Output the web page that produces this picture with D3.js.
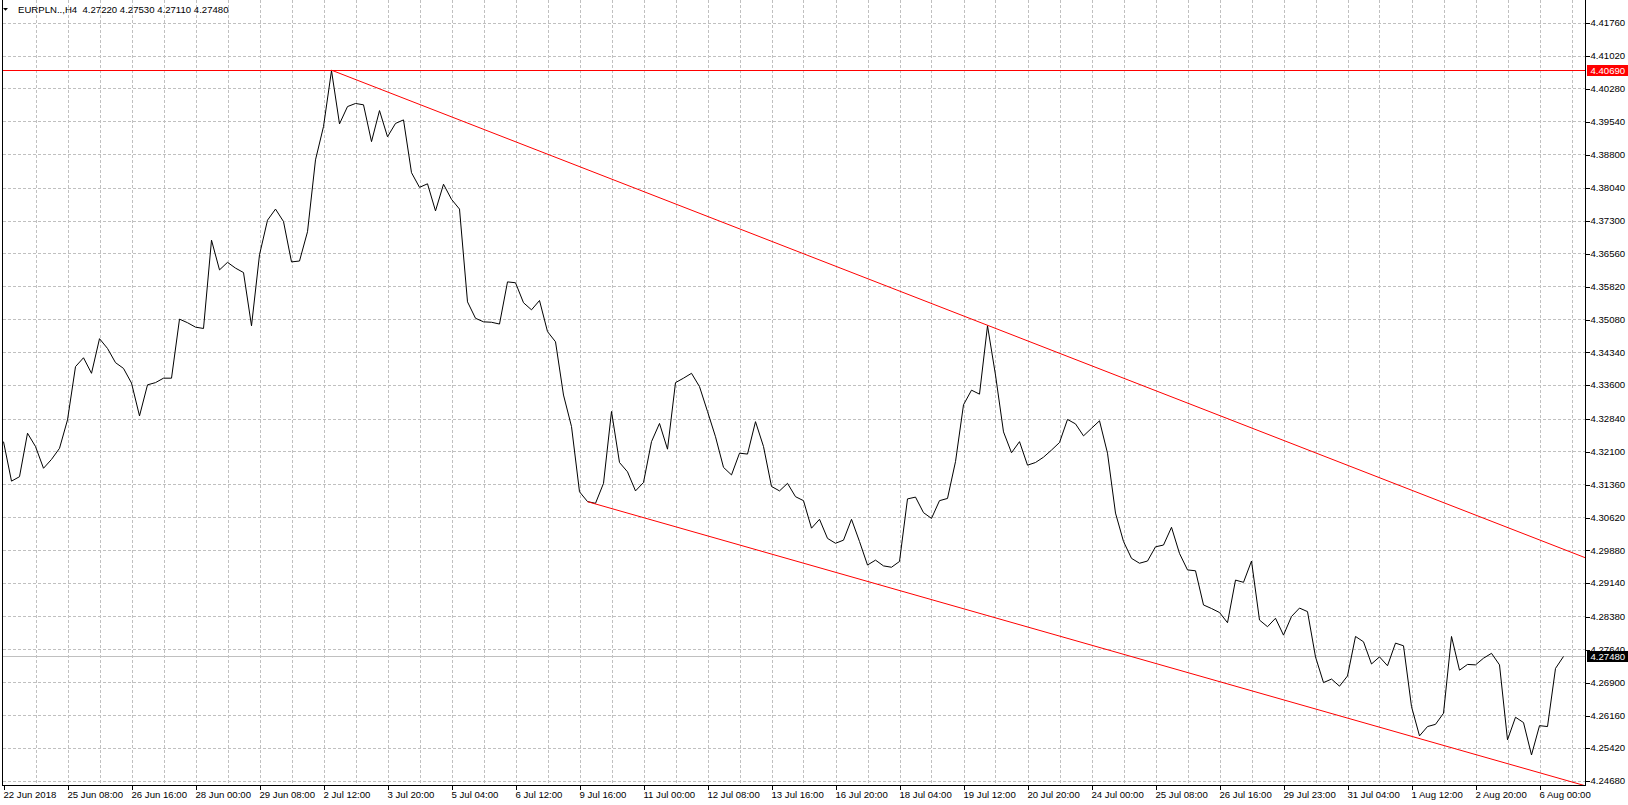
<!DOCTYPE html>
<html lang="en">
<head>
<meta charset="utf-8">
<title>EURPLN H4</title>
<script src="https://cdnjs.cloudflare.com/ajax/libs/d3/7.8.5/d3.min.js"></script>
<style>
body { margin: 0; background: #fff; }
svg { display: block; }
.grid line { stroke: #c0c0c0; stroke-width: 1; stroke-dasharray: 3,2; shape-rendering: crispEdges; }
.price { fill: none; stroke: #000; stroke-width: 1; }
.redline { fill: none; stroke: #ff0000; stroke-width: 1; }
.frame { stroke: #000; stroke-width: 1; shape-rendering: crispEdges; }
.axis text { font-family: "Liberation Sans", Arial, sans-serif; font-size: 9.6px; fill: #000; }
.axis line { stroke: #000; shape-rendering: crispEdges; }
</style>
</head>
<body>
<script>

// symbol header: name + O H L C of the last bar
var symbolName = "EURPLN..,H4";
var lastBar = [4.27220, 4.27530, 4.27110, 4.27480];

// H4 closes, one per bar (22 Jun 2018 -> 6 Aug 2018)
var closes = [4.3232,4.3143,4.3153,4.3251,4.3221,4.3172,4.3192,4.3217,4.3281,4.3401,
 4.3421,4.3386,4.3464,4.3442,4.3410,4.3397,4.3364,4.3290,4.3360,4.3365,
 4.3375,4.3375,4.3508,4.3500,4.3490,4.3487,4.3686,4.3619,4.3636,4.3623,
 4.3613,4.3493,4.3653,4.3731,4.3756,4.3728,4.3637,4.3639,4.3705,4.3867,
 4.3942,4.4068,4.3948,4.3987,4.3994,4.3991,4.3908,4.3978,4.3919,4.3949,
 4.3957,4.3838,4.3805,4.3813,4.3752,4.3812,4.3778,4.3756,4.3547,4.3510,
 4.3502,4.3501,4.3497,4.3592,4.3590,4.3545,4.3529,4.3550,4.3480,4.3457,
 4.3337,4.3266,4.3119,4.3097,4.3093,4.3138,4.3300,4.3185,4.3164,4.3121,
 4.3140,4.3232,4.3273,4.3215,4.3365,4.3375,4.3386,4.3356,4.3300,4.3243,
 4.3174,4.3157,4.3206,4.3204,4.3277,4.3221,4.3131,4.3121,4.3138,4.3108,
 4.3099,4.3037,4.3057,4.3014,4.3003,4.3010,4.3057,4.3007,4.2954,4.2965,
 4.2952,4.2949,4.2962,4.3103,4.3107,4.3072,4.3059,4.3099,4.3104,4.3187,
 4.3315,4.3348,4.3339,4.3493,4.3382,4.3254,4.3207,4.3232,4.3179,4.3185,
 4.3197,4.3213,4.3230,4.3282,4.3272,4.3245,4.3262,4.3279,4.3206,4.3071,
 4.3007,4.2969,4.2958,4.2963,4.2995,4.2999,4.3039,4.2980,4.2943,4.2941,
 4.2864,4.2856,4.2847,4.2824,4.2920,4.2915,4.2963,4.2830,4.2815,4.2834,
 4.2796,4.2838,4.2857,4.2849,4.2747,4.2689,4.2697,4.2681,4.2704,4.2793,
 4.2781,4.2731,4.2747,4.2727,4.2778,4.2772,4.2635,4.2569,4.2590,4.2595,
 4.2620,4.2793,4.2717,4.2730,4.2729,4.2744,4.2755,4.2729,4.2560,4.2611,
 4.2599,4.2526,4.2592,4.2590,4.2721,4.2748];

// price scale labels
var yTicks = [4.41760,4.41020,4.40280,4.39540,4.38800,4.38040,4.37300,4.36560,
  4.35820,4.35080,4.34340,4.33600,4.32840,4.32100,4.31360,4.30620,4.29880,
  4.29140,4.28380,4.27640,4.26900,4.26160,4.25420,4.24680];

// time scale labels, one every 8 bars
var xLabels = ["22 Jun 2018","25 Jun 08:00","26 Jun 16:00","28 Jun 00:00","29 Jun 08:00",
  "2 Jul 12:00","3 Jul 20:00","5 Jul 04:00","6 Jul 12:00","9 Jul 16:00","11 Jul 00:00",
  "12 Jul 08:00","13 Jul 16:00","16 Jul 20:00","18 Jul 04:00","19 Jul 12:00","20 Jul 20:00",
  "24 Jul 00:00","25 Jul 08:00","26 Jul 16:00","29 Jul 23:00","31 Jul 04:00","1 Aug 12:00",
  "2 Aug 20:00","6 Aug 00:00"];

// drawn objects: horizontal level + two trend lines (bar index, price)
var levelPrice = 4.40690;
var upperTrend = [[41, 4.40690], [123, 4.34942]];
var lowerTrend = [[73, 4.30967], [190, 4.24962]];

var width = 1628, height = 805;
var plot = {left: 2.5, right: 1585.5, top: 0, bottom: 785.5};
var barStep = 8;
var fontFam = '"Liberation Sans", Arial, sans-serif';

var x = d3.scaleLinear()
  .domain([0, closes.length - 1])
  .range([3.5, 3.5 + barStep * (closes.length - 1)]);

var y = d3.scaleLinear()
  .domain([4.24680, 4.41760])
  .range([780.7, 22.7]);

var svg = d3.select("body").append("svg")
  .attr("width", width)
  .attr("height", height);

svg.append("defs").append("clipPath").attr("id", "plotclip")
  .append("rect")
  .attr("x", plot.left).attr("y", plot.top)
  .attr("width", plot.right - plot.left).attr("height", plot.bottom - plot.top);

// grid
var grid = svg.append("g").attr("class", "grid");
grid.selectAll(".hg").data(yTicks).enter().append("line")
  .attr("x1", plot.left).attr("x2", plot.right)
  .attr("y1", function(d) { return Math.round(y(d)) + 0.5; })
  .attr("y2", function(d) { return Math.round(y(d)) + 0.5; });

var vIdx = d3.range(4, Math.floor(x.invert(plot.right)) + 1, 4);
grid.selectAll(".vg").data(vIdx).enter().append("line")
  .attr("y1", plot.top).attr("y2", plot.bottom)
  .attr("x1", function(d) { return Math.round(x(d)) + 0.5; })
  .attr("x2", function(d) { return Math.round(x(d)) + 0.5; });

var clipped = svg.append("g").attr("clip-path", "url(#plotclip)");

// bid line
clipped.append("line")
  .attr("x1", plot.left).attr("x2", plot.right)
  .attr("y1", Math.round(y(lastBar[3])) + 0.5)
  .attr("y2", Math.round(y(lastBar[3])) + 0.5)
  .attr("stroke", "#c0c0c0").attr("shape-rendering", "crispEdges");

// price line
var valueline = d3.line()
  .x(function(d, i) { return x(i); })
  .y(function(d) { return y(d); });

clipped.append("path")
  .datum(closes)
  .attr("class", "price")
  .attr("d", valueline);

// red level
clipped.append("line")
  .attr("class", "redline")
  .attr("x1", plot.left).attr("x2", plot.right)
  .attr("y1", Math.round(y(levelPrice)) + 0.5)
  .attr("y2", Math.round(y(levelPrice)) + 0.5)
  .attr("shape-rendering", "crispEdges");

// trend lines, extended to the right edge
function rayPoints(p) {
  var slope = (p[1][1] - p[0][1]) / (p[1][0] - p[0][0]);
  var endIdx = x.invert(plot.right);
  return [p[0], [endIdx, p[0][1] + slope * (endIdx - p[0][0])]];
}
var tline = d3.line()
  .x(function(d) { return x(d[0]); })
  .y(function(d) { return y(d[1]); });

clipped.selectAll(".trend").data([upperTrend, lowerTrend]).enter().append("path")
  .attr("class", "redline")
  .attr("d", function(d) { return tline(rayPoints(d)); });

// frame
svg.append("line").attr("class", "frame")
  .attr("x1", plot.left).attr("x2", plot.left).attr("y1", plot.top).attr("y2", plot.bottom);
svg.append("line").attr("class", "frame")
  .attr("x1", plot.right).attr("x2", plot.right).attr("y1", plot.top).attr("y2", plot.bottom);
svg.append("line").attr("class", "frame")
  .attr("x1", plot.left).attr("x2", plot.right).attr("y1", plot.bottom).attr("y2", plot.bottom);

// price axis
var yAxis = svg.append("g")
  .attr("class", "axis")
  .attr("transform", "translate(" + plot.right + ",0)")
  .call(d3.axisRight(y).tickValues(yTicks).tickSize(4).tickPadding(1)
    .tickFormat(d3.format(".5f")));
yAxis.attr("font-family", fontFam).attr("font-size", null);
yAxis.select(".domain").remove();
yAxis.selectAll(".tick line").attr("transform", "translate(0,0.5)");

// time axis
var xAxis = svg.append("g")
  .attr("class", "axis")
  .attr("transform", "translate(0," + plot.bottom + ")")
  .call(d3.axisBottom(x).tickValues(d3.range(0, xLabels.length * 8, 8))
    .tickSize(4).tickPadding(2)
    .tickFormat(function(d) { return xLabels[d / 8]; }));
xAxis.attr("font-family", fontFam).attr("font-size", null);
xAxis.select(".domain").remove();
xAxis.selectAll(".tick text").attr("text-anchor", "start").attr("x", -0.5);

// price tags on the scale
function priceTag(v, fill) {
  var cy = y(v);
  var g = svg.append("g");
  g.append("rect")
    .attr("x", plot.right + 1.5).attr("y", Math.round(cy) - 5)
    .attr("width", width - plot.right - 1.5).attr("height", 11)
    .attr("fill", fill);
  g.append("text")
    .attr("x", plot.right + 5).attr("y", cy).attr("dy", "0.35em")
    .attr("font-family", fontFam).attr("font-size", "9.6px")
    .attr("fill", "#fff")
    .text(d3.format(".5f")(v));
}
priceTag(levelPrice, "#ff0000");
priceTag(lastBar[3], "#000000");

// header
svg.append("path")
  .attr("d", "M3,8 L8,8 L5.5,10.8 Z")
  .attr("fill", "#000");
svg.append("text")
  .attr("x", 18).attr("y", 12.5)
  .attr("font-family", fontFam).attr("font-size", "9.6px")
  .style("white-space", "pre")
  .text(symbolName + "  " + lastBar.map(d3.format(".5f")).join(" "));

</script>
</body>
</html>
